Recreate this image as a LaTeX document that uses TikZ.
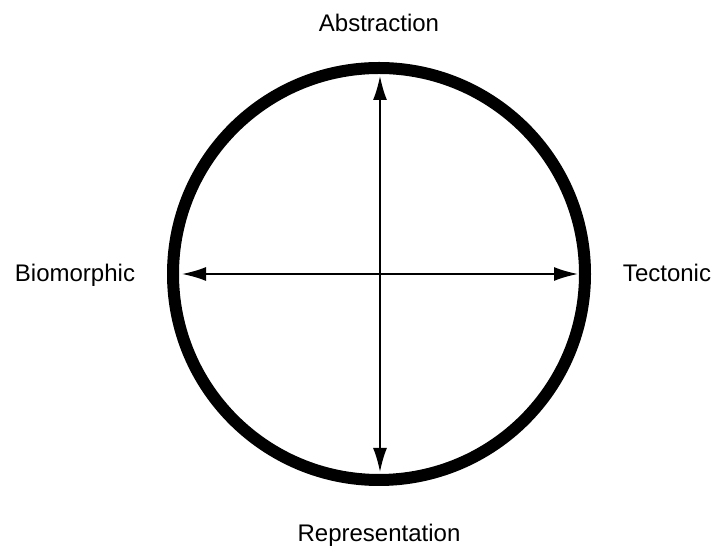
\documentclass[tikz,border=0pt]{standalone}
\usepackage{fontspec}
\setmainfont{Liberation Sans}
\usetikzlibrary{arrows.meta}

\begin{document}
\begin{tikzpicture}[x=1pt, y=1pt, every node/.style={font=\fontsize{24}{28}\selectfont, inner sep=0pt}]
    % Keep the page the size of the reference
    \useasboundingbox (0,0) rectangle (715,548);

    % Thick circle
    \coordinate (centre) at (379,274);
    \draw[line width=12pt] (centre) circle (206);

    % Arrow ends on the inside of the ring
    \coordinate (west) at (182,274);
    \coordinate (east) at (578,274);
    \coordinate (north) at (380,472);
    \coordinate (south) at (380,76);

    % Two double arrows
    \draw[line width=1.8pt, {Latex[length=24pt,width=14pt]}-{Latex[length=24pt,width=14pt]}] (west) -- (east);
    \draw[line width=1.8pt, {Latex[length=24pt,width=14pt]}-{Latex[length=24pt,width=14pt]}] (south) -- (north);

    % Pole labels
    \node[anchor=base] (abstraction) at (379,516) {Abstraction};
    \node[anchor=base] (representation) at (379,6) {Representation};
    \node[anchor=base] (biomorphic) at (75,266) {Biomorphic};
    \node[anchor=base] (tectonic) at (667,266) {Tectonic};
\end{tikzpicture}
\end{document}
